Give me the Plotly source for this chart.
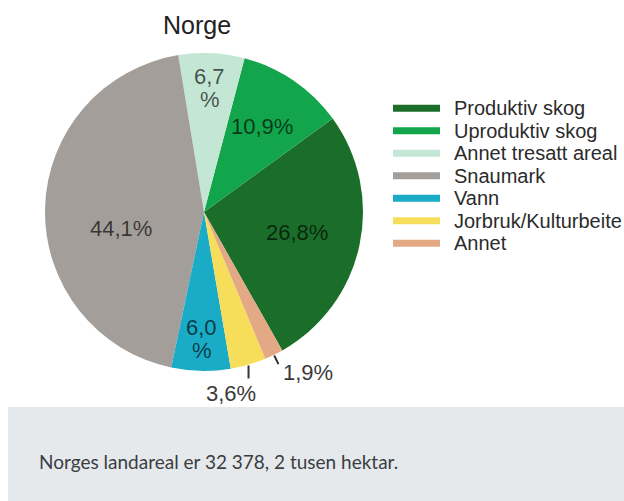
import math
import plotly.graph_objects as go

# ---- data ----
labels = ["Produktiv skog", "Uproduktiv skog", "Annet tresatt areal", "Snaumark",
          "Vann", "Jorbruk/Kulturbeite", "Annet"]
values = [26.8, 10.9, 6.7, 44.1, 6.0, 3.6, 1.9]
slice_text = ["26,8%", "10,9%", "6,7<br>%", "44,1%", "6,0<br>%", "3,6%", "1,9%"]
colors = ["#1b6e2a", "#13a54b", "#c4e6d5", "#a49e9a", "#1aabc6", "#f7de5a", "#e3a985"]
title_text = "Norge"
caption = "Norges landareal er 32 378, 2 tusen hektar."

# ---- layout constants (pixels) ----
W, H = 624, 501
CX, CY, R = 204, 212, 159
START = 150.5          # clockwise angle (from 12 o'clock) where the first slice begins
total = sum(values)
# plotly: for counterclockwise direction, the first slice ends at `rotation`
ROT = START - values[0] / total * 360.0
LINE_GAP = 23

def px(x):
    return x / W

def py(y):
    return 1 - y / H

IN_FONT = dict(family="Liberation Sans, Arial", size=22, color="rgba(0,0,0,0.66)")
OUT_FONT = dict(family="Liberation Sans, Arial", size=22, color="#3a3a3a")

fig = go.Figure()
fig.add_trace(go.Pie(
    labels=labels, values=values, sort=False, direction="counterclockwise",
    rotation=ROT, marker=dict(colors=colors, line=dict(width=0)),
    textinfo="none", hoverinfo="label+percent", showlegend=False,
    domain=dict(x=[px(CX - R), px(CX + R)], y=[py(CY + R), py(CY - R)]),
))

# label placement styles: (radius fraction, xshift, yshift, mode)
label_style = [
    (0.60, 0, 0, "in"),
    (0.65, 0, 0, "in"),
    (0.78, 0, 0, "in"),
    (0.55, 4, -18, "in"),
    (0.80, 0, 0, "in"),
    (1.00, 0, 0, "out_below"),
    (1.00, 0, 0, "out_right"),
]

annotations = []
shapes = []
cum = 0.0
for v, t, (fr, xs, ys, mode) in zip(values, slice_text, label_style):
    mid = START - (cum + v / 2) / total * 360.0
    cum += v
    a = math.radians(mid)
    if mode == "in":
        x = CX + fr * R * math.sin(a)
        y = CY - fr * R * math.cos(a)
        lines = t.split("<br>")
        n = len(lines)
        for k, ln in enumerate(lines):
            yk = y + (k - (n - 1) / 2) * LINE_GAP
            annotations.append(dict(x=px(x), y=py(yk), xref="paper", yref="paper", text=ln,
                                    showarrow=False, xanchor="center", yanchor="middle",
                                    xshift=xs, yshift=ys, font=IN_FONT))
    else:
        x0 = CX + 1.005 * R * math.sin(a)
        y0 = CY - 1.005 * R * math.cos(a)
        if mode == "out_below":
            x1, y1 = x0, y0 + 13
            shapes.append(dict(type="line", xref="paper", yref="paper", x0=px(x0), y0=py(y0),
                               x1=px(x1), y1=py(y1), line=dict(color="#333333", width=2)))
            annotations.append(dict(x=px(x1), y=py(y1), xref="paper", yref="paper", text=t,
                                    showarrow=False, xanchor="center", yanchor="top",
                                    xshift=-18, yshift=-1, font=OUT_FONT))
        else:
            x1 = CX + 1.065 * R * math.sin(a)
            y1 = CY - 1.065 * R * math.cos(a)
            shapes.append(dict(type="line", xref="paper", yref="paper", x0=px(x0), y0=py(y0),
                               x1=px(x1), y1=py(y1), line=dict(color="#333333", width=2)))
            annotations.append(dict(x=px(x1), y=py(y1), xref="paper", yref="paper", text=t,
                                    showarrow=False, xanchor="left", yanchor="middle",
                                    xshift=3, yshift=-8, font=OUT_FONT))

# title
annotations.append(dict(x=px(197), y=py(25), xref="paper", yref="paper", text=title_text,
                        showarrow=False, xanchor="center", yanchor="middle",
                        font=dict(family="Liberation Sans, Arial", size=25, color="#222222")))

# legend (manual, thick line swatches)
LEG_X0, LEG_X1, LEG_TX, LEG_Y0, LEG_DY = 393, 440, 452, 108.3, 22.5
for i, (lab, col) in enumerate(zip(labels, colors)):
    yy = LEG_Y0 + i * LEG_DY
    shapes.append(dict(type="line", xref="paper", yref="paper", x0=px(LEG_X0), x1=px(LEG_X1),
                       y0=py(yy), y1=py(yy), line=dict(color=col, width=7)))
    annotations.append(dict(x=px(LEG_TX), y=py(yy), xref="paper", yref="paper", text=lab,
                            showarrow=False, xanchor="left", yanchor="middle",
                            font=dict(family="Liberation Sans, Arial", size=20, color="#2b2b2b")))

# caption box
shapes.append(dict(type="rect", xref="paper", yref="paper", x0=px(8), x1=1, y0=0, y1=py(407),
                   fillcolor="#e6e9ec", line=dict(width=0), layer="below"))
annotations.append(dict(x=px(37), y=py(461), xref="paper", yref="paper", text=caption,
                        showarrow=False, xanchor="left", yanchor="middle",
                        font=dict(family="Lato, Open Sans", size=19, color="#3a3d42")))

fig.update_layout(
    width=W, height=H, margin=dict(l=0, r=0, t=0, b=0),
    paper_bgcolor="white", plot_bgcolor="white",
    annotations=annotations, shapes=shapes, showlegend=False,
)

fig.write_html("out.html", config={"displayModeBar": False},
               post_script="document.body.style.margin='0';document.body.style.overflow='hidden';")
